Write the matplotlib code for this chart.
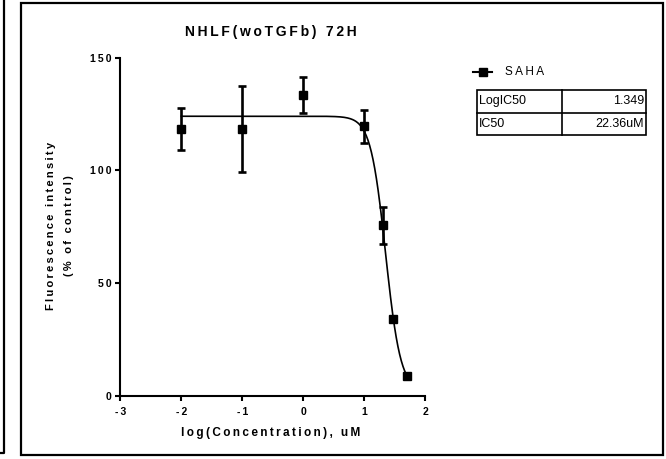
import numpy as np
import matplotlib
matplotlib.use("Agg")
import matplotlib.pyplot as plt
from matplotlib.lines import Line2D
from matplotlib.patches import Rectangle

# ---- data ----
log_conc = [-2.0, -1.0, 0.0, 1.0, 1.301, 1.477, 1.699]
response = [118.4, 118.4, 133.4, 119.5, 75.5, 33.8, 8.6]
err = [9.3, 19.0, 8.0, 7.4, 8.2, 0.0, 0.0]
# fitted curve parameters (sigmoidal dose-response)
fit_top = 124.0
fit_bottom = 2.0
fit_logic50 = 1.349
fit_hill = -3.53
series_name = "SAHA"
table_rows = [["LogIC50", "1.349"], ["IC50", "22.36uM"]]
x_ticks = [-3, -2, -1, 0, 1, 2]
y_ticks = [0, 50, 100, 150]
title = "NHLF(woTGFb) 72H"
xlabel = "log(Concentration), uM"
ylabel = "Fluorescence intensity\n(% of control)"

FONT = ["Liberation Sans", "DejaVu Sans"]
plt.rcParams["font.family"] = FONT


def sp(s, gap="\u2009"):
    return "\n".join(gap.join(list(line)) for line in s.split("\n"))


W, H = 666, 459
fig = plt.figure(figsize=(W / 100, H / 100), dpi=100)


def fx(px):
    return px / W


def fy(py):
    return 1 - py / H


ax = fig.add_axes([fx(120.4), fy(395.5), fx(425.3) - fx(120.4), fy(57.7) - fy(395.5)])

xs = np.linspace(log_conc[0], log_conc[-1], 400)
ys = fit_bottom + (fit_top - fit_bottom) / (1 + 10 ** ((fit_logic50 - xs) * fit_hill))
ax.plot(xs, ys, color="black", lw=1.2, zorder=2)
ax.errorbar(log_conc, response, yerr=err, fmt="s", color="black", ms=5.5,
            elinewidth=1.9, capsize=3.2, capthick=1.9, zorder=3)

ax.set_xlim(-3, 2)
ax.set_ylim(0, 150)
ax.set_xticks(x_ticks)
ax.set_yticks(y_ticks)
ax.set_xticklabels([sp(str(t)) for t in x_ticks], fontsize=7.5, fontweight="bold")
ax.set_yticklabels([sp(str(t)) for t in y_ticks], fontsize=7.5, fontweight="bold")
for s in ["top", "right"]:
    ax.spines[s].set_visible(False)
for s in ["left", "bottom"]:
    ax.spines[s].set_linewidth(1.5)
ax.tick_params(direction="out", length=3.5, width=1.5)
ax.tick_params(axis="x", pad=5)
ax.tick_params(axis="y", pad=3)
ax.set_facecolor("none")

fig.text(fx(271), fy(32), sp(title), ha="center", va="center", fontsize=10, fontweight="bold")
fig.text(fx(271), fy(433), sp(xlabel), ha="center", va="center", fontsize=8.5, fontweight="bold")
fig.text(fx(60), fy(226), sp(ylabel), ha="center", va="center", fontsize=8,
         fontweight="bold", rotation=90, linespacing=2.0)

# legend
fig.add_artist(Line2D([fx(473), fx(492)], [fy(72), fy(72)], color="black", lw=1.5,
                      transform=fig.transFigure))
fig.add_artist(Line2D([fx(482.5)], [fy(72)], marker="s", ms=5.5, color="black",
                      transform=fig.transFigure))
fig.text(fx(505), fy(72), sp(series_name), ha="left", va="center", fontsize=8.5)

# table
tx0, tx1, txm = 477, 646, 561.5
ty0, ty1 = 90, 135
rh = (ty1 - ty0) / len(table_rows)
fig.add_artist(Rectangle((fx(tx0), fy(ty1)), fx(tx1) - fx(tx0), fy(ty0) - fy(ty1),
                         fill=False, lw=1.2, ec="black", transform=fig.transFigure))
fig.add_artist(Line2D([fx(txm), fx(txm)], [fy(ty0), fy(ty1)], color="black", lw=1.2,
                      transform=fig.transFigure))
for i, (k, v) in enumerate(table_rows):
    yc = ty0 + rh * (i + 0.5)
    if i > 0:
        fig.add_artist(Line2D([fx(tx0), fx(tx1)], [fy(ty0 + rh * i)] * 2, color="black",
                              lw=1.2, transform=fig.transFigure))
    fig.text(fx(tx0 + 2), fy(yc), k, ha="left", va="center", fontsize=9)
    fig.text(fx(tx1 - 2), fy(yc), v, ha="right", va="center", fontsize=9)

# frames
fig.add_artist(Rectangle((fx(20.5), fy(455)), fx(663) - fx(20.5), fy(2.5) - fy(455),
                         fill=False, lw=1.6, ec="black", transform=fig.transFigure))
fig.add_artist(Line2D([fx(4.3), fx(4.3), fx(0)], [fy(0), fy(453), fy(453)], color="black",
                      lw=1.6, transform=fig.transFigure))

fig.savefig("out.png", dpi=100)
